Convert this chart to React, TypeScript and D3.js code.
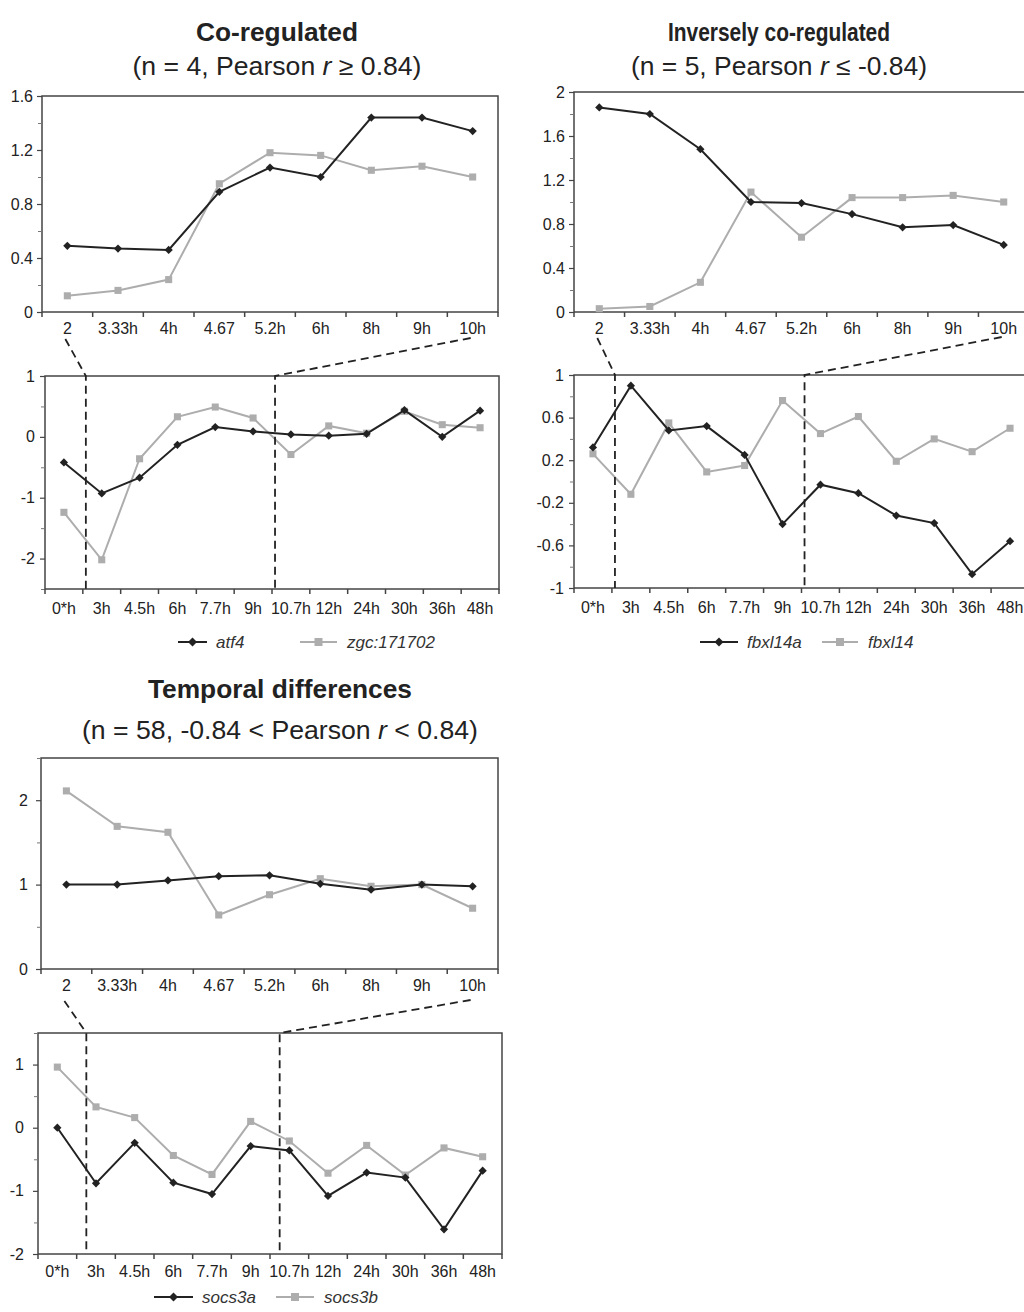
import React, { useEffect, useRef } from 'react';
import * as d3 from 'd3';

// x categories
const topCats = ['2', '3.33h', '4h', '4.67', '5.2h', '6h', '8h', '9h', '10h'];
const bottomCats = ['0*h', '3h', '4.5h', '6h', '7.7h', '9h', '10.7h', '12h', '24h', '30h', '36h', '48h'];

// Co-regulated
const atf4Top = [0.49, 0.47, 0.46, 0.89, 1.07, 1.0, 1.44, 1.44, 1.34];
const zgcTop = [0.12, 0.16, 0.24, 0.95, 1.18, 1.16, 1.05, 1.08, 1.0];
const atf4Bottom = [-0.42, -0.93, -0.67, -0.13, 0.16, 0.09, 0.04, 0.02, 0.05, 0.44, 0.0, 0.43];
const zgcBottom = [-1.24, -2.02, -0.36, 0.33, 0.49, 0.31, -0.29, 0.18, 0.06, 0.42, 0.2, 0.15];

// Inversely co-regulated
const fbxl14aTop = [1.86, 1.8, 1.48, 1.0, 0.99, 0.89, 0.77, 0.79, 0.61];
const fbxl14Top = [0.03, 0.05, 0.27, 1.09, 0.68, 1.04, 1.04, 1.06, 1.0];
const fbxl14aBottom = [0.32, 0.9, 0.48, 0.52, 0.25, -0.4, -0.03, -0.11, -0.32, -0.39, -0.87, -0.56];
const fbxl14Bottom = [0.26, -0.12, 0.55, 0.09, 0.15, 0.76, 0.45, 0.61, 0.19, 0.4, 0.28, 0.5];

// Temporal differences
const socs3aTop = [1.0, 1.0, 1.05, 1.1, 1.11, 1.01, 0.94, 1.0, 0.98];
const socs3bTop = [2.11, 1.69, 1.62, 0.64, 0.88, 1.07, 0.98, 1.0, 0.72];
const socs3aBottom = [0.0, -0.88, -0.24, -0.87, -1.05, -0.29, -0.36, -1.08, -0.71, -0.79, -1.61, -0.68];
const socs3bBottom = [0.96, 0.33, 0.16, -0.44, -0.74, 0.1, -0.21, -0.72, -0.28, -0.75, -0.32, -0.46];

// y ticks
const ticksA1 = [0, 0.4, 0.8, 1.2, 1.6];
const minorA1 = [0.2, 0.6, 1.0, 1.4];
const ticksA2 = [-2, -1, 0, 1];
const minorA2 = [-2.5, -1.5, -0.5, 0.5];
const ticksB1 = [0, 0.4, 0.8, 1.2, 1.6, 2];
const minorB1 = [0.2, 0.6, 1.0, 1.4, 1.8];
const ticksB2 = [-1, -0.6, -0.2, 0.2, 0.6, 1];
const minorB2 = [-0.8, -0.4, 0, 0.4, 0.8];
const ticksC1 = [0, 1, 2];
const minorC1 = [0.5, 1.5, 2.5];
const ticksC2 = [-2, -1, 0, 1];
const minorC2 = [-1.5, -0.5, 0.5, 1.5];

const FONT = '"Liberation Sans", Arial, Helvetica, sans-serif';
const DARK = '#222222';
const LIGHT = '#adadad';
const AXIS = '#444444';

interface PlotSpec {
  cats: string[];
  dark: number[];
  light: number[];
  domain: [number, number];
  ticks: number[];
  minor: number[];
  left: number;
  right: number;
  top: number;
  bottom: number;
  labelGap: number;
  labelDy: number;
}

const drawPlot = (svg: d3.Selection<SVGSVGElement, unknown, null, undefined>, s: PlotSpec) => {
  const x = d3.scaleBand<string>().domain(s.cats).range([s.left, s.right]);
  const y = d3.scaleLinear().domain(s.domain).range([s.bottom, s.top]);
  const cx = (i: number) => (x(s.cats[i]) || 0) + x.bandwidth() / 2;
  const g = svg.append('g');

  // frame
  g.append('rect')
    .attr('x', s.left).attr('y', s.top)
    .attr('width', s.right - s.left).attr('height', s.bottom - s.top)
    .attr('fill', 'none').attr('stroke', AXIS).attr('stroke-width', 1.5);

  // y axis
  const yAxis = g.append('g').attr('transform', `translate(${s.left},0)`)
    .call(d3.axisLeft(y).tickValues(s.ticks).tickSize(5).tickSizeOuter(0).tickPadding(s.labelGap)
      .tickFormat(d => String(d)));
  yAxis.select('.domain').remove();
  yAxis.selectAll('line').attr('stroke', AXIS).attr('stroke-width', 1.2);
  yAxis.selectAll('text').attr('font-family', FONT).attr('font-size', 16).attr('fill', '#222');

  const yMinor = g.append('g').attr('transform', `translate(${s.left},0)`)
    .call(d3.axisLeft(y).tickValues(s.minor).tickSize(4).tickSizeOuter(0).tickFormat(() => ''));
  yMinor.select('.domain').remove();
  yMinor.selectAll('line').attr('stroke', '#777').attr('stroke-width', 1);

  // x ticks at category boundaries, labels at centres
  const bounds = [...s.cats.map(c => x(c) || 0), s.right];
  g.selectAll('.xtick').data(bounds).enter().append('line')
    .attr('x1', d => d).attr('x2', d => d)
    .attr('y1', s.bottom).attr('y2', s.bottom + 5)
    .attr('stroke', AXIS).attr('stroke-width', 1.5);
  g.selectAll('.xlabel').data(s.cats).enter().append('text')
    .attr('x', (d, i) => cx(i)).attr('y', s.bottom + s.labelDy)
    .attr('text-anchor', 'middle')
    .attr('font-family', FONT).attr('font-size', 16).attr('fill', '#222')
    .text(d => d);

  const line = d3.line<number>().x((d, i) => cx(i)).y(d => y(d));

  g.append('path').datum(s.light).attr('d', line)
    .attr('fill', 'none').attr('stroke', LIGHT).attr('stroke-width', 2);
  g.selectAll('.sq').data(s.light).enter().append('path')
    .attr('d', d3.symbol(d3.symbolSquare, 50)())
    .attr('transform', (d, i) => `translate(${cx(i)},${y(d)})`)
    .attr('fill', LIGHT);

  g.append('path').datum(s.dark).attr('d', line)
    .attr('fill', 'none').attr('stroke', DARK).attr('stroke-width', 2);
  g.selectAll('.dm').data(s.dark).enter().append('path')
    .attr('d', d3.symbol(d3.symbolSquare, 34)())
    .attr('transform', (d, i) => `translate(${cx(i)},${y(d)}) rotate(45)`)
    .attr('fill', DARK);

  return { x, cx };
};

interface PanelSpec {
  top: PlotSpec;
  bot: PlotSpec;
  dashFrac: number;
  dashStartDy: number;
  legend: { y: number; dark: [number, number, string]; light: [number, number, string] };
}

const drawPanel = (svg: d3.Selection<SVGSVGElement, unknown, null, undefined>, p: PanelSpec) => {
  const t = drawPlot(svg, p.top);
  const b = drawPlot(svg, p.bot);
  const step = b.x.step();
  const xa = b.cx(1) - step * p.dashFrac;
  const xb = b.cx(6) - step * p.dashFrac;
  const y0 = p.top.bottom + p.dashStartDy;
  const n = p.top.cats.length;
  const dashed = [
    [[t.cx(0) - 2, y0], [xa, p.bot.top], [xa, p.bot.bottom]],
    [[t.cx(n - 1) - 2, y0 - 1], [xb, p.bot.top], [xb, p.bot.bottom]],
  ] as [number, number][][];
  svg.selectAll(null).data(dashed).enter().append('path')
    .attr('d', d => d3.line()(d))
    .attr('fill', 'none').attr('stroke', DARK).attr('stroke-width', 1.8)
    .attr('stroke-dasharray', '8,5');

  // legend
  const lg = svg.append('g').attr('font-family', FONT).attr('font-size', 17).attr('font-style', 'italic');
  const [dx0, dx1, dName] = p.legend.dark;
  const [lx0, lx1, lName] = p.legend.light;
  const ly = p.legend.y;
  lg.append('line').attr('x1', dx0).attr('x2', dx1).attr('y1', ly).attr('y2', ly)
    .attr('stroke', DARK).attr('stroke-width', 2);
  lg.append('path').attr('d', d3.symbol(d3.symbolSquare, 40)())
    .attr('transform', `translate(${(dx0 + dx1) / 2},${ly}) rotate(45)`).attr('fill', DARK);
  lg.append('text').attr('x', dx1 + 9).attr('y', ly + 6).attr('fill', '#333').text(dName);
  lg.append('line').attr('x1', lx0).attr('x2', lx1).attr('y1', ly).attr('y2', ly)
    .attr('stroke', LIGHT).attr('stroke-width', 2);
  lg.append('path').attr('d', d3.symbol(d3.symbolSquare, 64)())
    .attr('transform', `translate(${(lx0 + lx1) / 2},${ly})`).attr('fill', LIGHT);
  lg.append('text').attr('x', lx1 + 10).attr('y', ly + 6).attr('fill', '#333').text(lName);
};

const addTitle = (
  svg: d3.Selection<SVGSVGElement, unknown, null, undefined>,
  cx: number, y: number, size: number, width: number, bold: boolean, parts: [string, boolean][]
) => {
  const t = svg.append('text')
    .attr('x', cx).attr('y', y).attr('text-anchor', 'middle')
    .attr('font-family', FONT).attr('font-size', size)
    .attr('font-weight', bold ? 'bold' : 'normal').attr('fill', '#222')
    .attr('textLength', width).attr('lengthAdjust', 'spacingAndGlyphs');
  parts.forEach(([txt, it]) => {
    t.append('tspan').attr('font-style', it ? 'italic' : 'normal').text(txt);
  });
};

const App: React.FC = () => {
  const svgRef = useRef<SVGSVGElement>(null);

  useEffect(() => {
    if (!svgRef.current) return;
    const svg = d3.select(svgRef.current);
    svg.selectAll('*').remove();

    addTitle(svg, 277, 41, 26, 162, true, [['Co-regulated', false]]);
    addTitle(svg, 277, 75, 25, 289, false, [['(n = 4, Pearson ', false], ['r', true], [' \u2265 0.84)', false]]);
    addTitle(svg, 779, 41, 26, 222, true, [['Inversely co-regulated', false]]);
    addTitle(svg, 779, 75, 25, 296, false, [['(n = 5, Pearson ', false], ['r', true], [' \u2264 -0.84)', false]]);
    addTitle(svg, 280, 698, 26, 264, true, [['Temporal differences', false]]);
    addTitle(svg, 280, 739, 25, 396, false, [['(n = 58, -0.84 < Pearson ', false], ['r', true], [' < 0.84)', false]]);

    drawPanel(svg, {
      top: { cats: topCats, dark: atf4Top, light: zgcTop, domain: [0, 1.6], ticks: ticksA1, minor: minorA1,
        left: 42, right: 498, top: 96, bottom: 312, labelGap: 4, labelDy: 22 },
      bot: { cats: bottomCats, dark: atf4Bottom, light: zgcBottom, domain: [-2.5, 1], ticks: ticksA2, minor: minorA2,
        left: 45, right: 499, top: 376, bottom: 589, labelGap: 5, labelDy: 25 },
      dashFrac: 0.42,
      dashStartDy: 27,
      legend: { y: 642, dark: [178, 207, 'atf4'], light: [300, 337, 'zgc:171702'] },
    });

    drawPanel(svg, {
      top: { cats: topCats, dark: fbxl14aTop, light: fbxl14Top, domain: [0, 2], ticks: ticksB1, minor: minorB1,
        left: 574, right: 1029, top: 92, bottom: 312, labelGap: 4, labelDy: 22 },
      bot: { cats: bottomCats, dark: fbxl14aBottom, light: fbxl14Bottom, domain: [-1, 1], ticks: ticksB2, minor: minorB2,
        left: 574, right: 1029, top: 375, bottom: 588, labelGap: 5, labelDy: 25 },
      dashFrac: 0.42,
      dashStartDy: 26,
      legend: { y: 642, dark: [700, 738, 'fbxl14a'], light: [822, 858, 'fbxl14'] },
    });

    drawPanel(svg, {
      top: { cats: topCats, dark: socs3aTop, light: socs3bTop, domain: [0, 2.5], ticks: ticksC1, minor: minorC1,
        left: 41, right: 498, top: 758, bottom: 969, labelGap: 8, labelDy: 22 },
      bot: { cats: bottomCats, dark: socs3aBottom, light: socs3bBottom, domain: [-2, 1.5], ticks: ticksC2, minor: minorC2,
        left: 38, right: 502, top: 1033, bottom: 1254, labelGap: 9, labelDy: 23 },
      dashFrac: 0.25,
      dashStartDy: 32,
      legend: { y: 1297, dark: [154, 193, 'socs3a'], light: [276, 314, 'socs3b'] },
    });
  }, []);

  return (
    <div style={{ position: 'absolute', left: 0, top: 0, width: 1024, height: 1312, background: '#fff' }}>
      <svg ref={svgRef} width={1024} height={1312} style={{ display: 'block' }}></svg>
    </div>
  );
};

export default App;
